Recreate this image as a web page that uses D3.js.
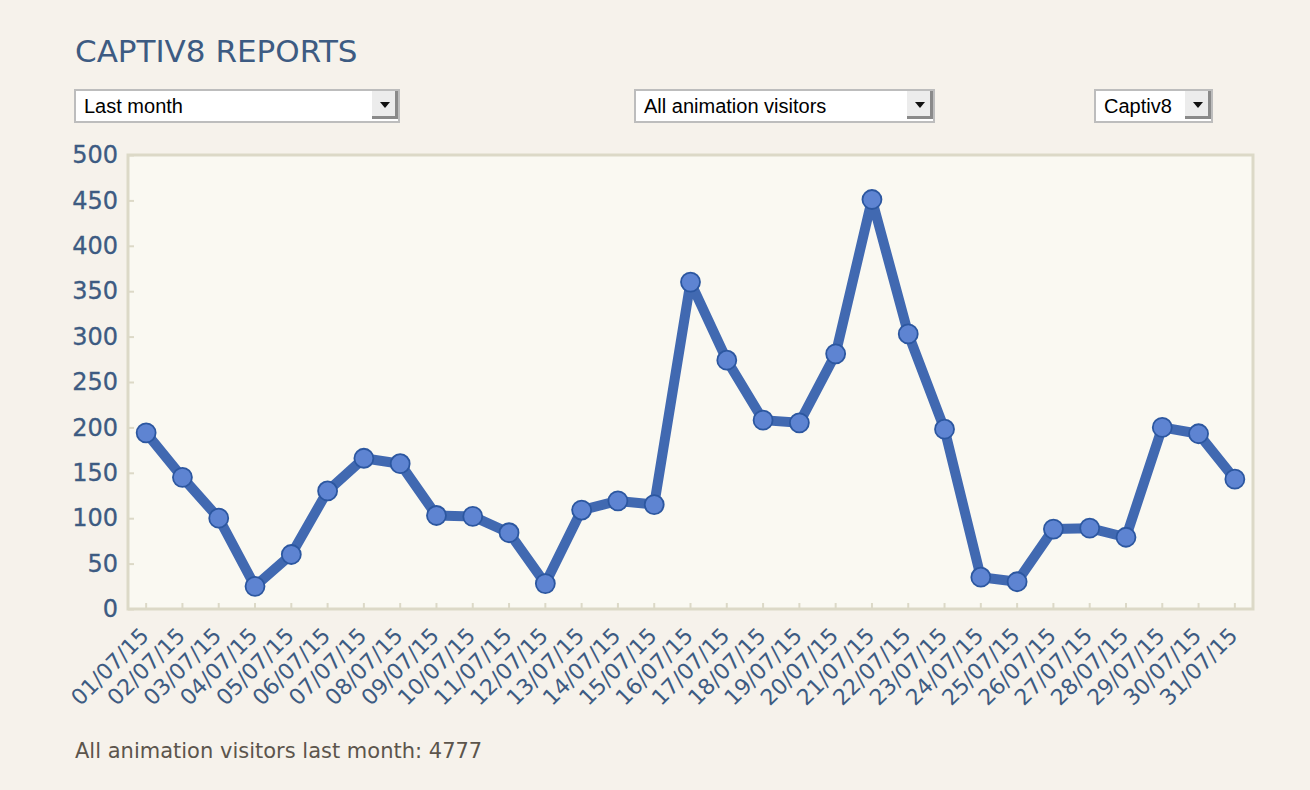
<html>
<head>
<script type="text/javascript" src="https://cdnjs.cloudflare.com/ajax/libs/d3/7.8.5/d3.min.js"></script>
<style>
	body { margin: 0; background: #f6f2eb; font-family: "DejaVu Sans", sans-serif; }
	#page { position: relative; width: 1310px; height: 790px; overflow: hidden; }
	.dd { position: absolute; top: 89px; height: 30px; background: #fff; border: 2px solid #bdbdbd;
		font-family: "Liberation Sans", Arial, sans-serif; font-size: 20px; line-height: 30px; color: #000; padding-left: 8px; box-sizing: content-box; }
	.dd .arr { position: absolute; right: 0; top: 0; width: 26px; height: 28px; background: #ececec;
		border-right: 3px solid #8a8a8a; border-bottom: 3px solid #8a8a8a; box-sizing: border-box; }
	.dd .arr:after { content: ""; position: absolute; left: 8px; top: 11px; border-left: 5px solid transparent;
		border-right: 5px solid transparent; border-top: 6px solid #111; }
</style>
<script type="text/javascript">
	// data
	var days = ["01/07/15","02/07/15","03/07/15","04/07/15","05/07/15","06/07/15","07/07/15","08/07/15",
		"09/07/15","10/07/15","11/07/15","12/07/15","13/07/15","14/07/15","15/07/15","16/07/15",
		"17/07/15","18/07/15","19/07/15","20/07/15","21/07/15","22/07/15","23/07/15","24/07/15",
		"25/07/15","26/07/15","27/07/15","28/07/15","29/07/15","30/07/15","31/07/15"];
	var visitors = [194,145,100,25,60,130,166,160,103,102,84,28,109,119,115,360,274,208,205,281,
		451,303,198,35,30,88,89,79,200,193,143];
	var yTicks = [0,50,100,150,200,250,300,350,400,450,500];

	function loadMeUp() {
		var page = d3.select("#page");

		var svg = page.append("svg")
			.attr("width", 1310)
			.attr("height", 790)
			.style("position", "absolute")
			.style("left", 0).style("top", 0);

		svg.append("text")
			.attr("x", 75).attr("y", 62)
			.attr("fill", "#3d5b82")
			.style("font-family", "'DejaVu Sans', sans-serif")
			.style("font-size", "31px")
			.text("CAPTIV8 REPORTS");

		var left = 128, right = 1253, top = 155, bottom = 609;

		var x = d3.scaleBand().domain(days).range([left, right]);
		var y = d3.scaleLinear().domain([0, 500]).range([bottom, top]);

		// plot background + border
		svg.append("rect")
			.attr("x", left).attr("y", top)
			.attr("width", right - left).attr("height", bottom - top)
			.attr("fill", "#faf9f2")
			.attr("stroke", "#dcd9c7")
			.attr("stroke-width", 3);

		// y axis
		var yAxis = svg.append("g")
			.attr("transform", "translate(" + left + ",0)")
			.call(d3.axisLeft(y).tickValues(yTicks).tickSize(-6).tickPadding(10));
		yAxis.select(".domain").remove();
		yAxis.selectAll("line").attr("stroke", "#dcd9c7").attr("stroke-width", 2);
		yAxis.selectAll("text")
			.attr("fill", "#3d5b82")
			.style("font-family", "'DejaVu Sans', sans-serif")
			.style("font-size", "24px")
			.attr("stroke", "#3d5b82").attr("stroke-width", 0.3);

		// x axis
		var xAxis = svg.append("g")
			.attr("transform", "translate(0," + bottom + ")")
			.call(d3.axisBottom(x).tickSize(-6).tickPadding(0));
		xAxis.select(".domain").remove();
		xAxis.selectAll("line").attr("stroke", "#dcd9c7").attr("stroke-width", 2);
		xAxis.selectAll("text")
			.attr("fill", "#3d5b82")
			.style("font-family", "'DejaVu Sans', sans-serif")
			.style("font-size", "22px")
			.attr("text-anchor", "end")
			.attr("dy", 0)
			.attr("transform", "translate(4,28) rotate(-45)");

		var line = d3.line()
			.x(function(d, i) { return x(days[i]) + x.bandwidth() / 2; })
			.y(function(d) { return y(d); });

		svg.append("path")
			.datum(visitors)
			.attr("d", line)
			.attr("fill", "none")
			.attr("stroke", "#4169b1")
			.attr("stroke-width", 10)
			.attr("stroke-linejoin", "round");

		svg.selectAll("circle.pt")
			.data(visitors)
			.enter().append("circle")
			.attr("class", "pt")
			.attr("cx", function(d, i) { return x(days[i]) + x.bandwidth() / 2; })
			.attr("cy", function(d) { return y(d); })
			.attr("r", 9.5)
			.attr("fill", "#5e84d2")
			.attr("stroke", "#2c57a0")
			.attr("stroke-width", 1.8);

		svg.append("text")
			.attr("x", 75).attr("y", 758)
			.attr("fill", "#5c554c")
			.style("font-family", "'DejaVu Sans', sans-serif")
			.style("font-size", "21px")
			.text("All animation visitors last month: " + d3.sum(visitors));
	}
</script>
</head>
<body onload="loadMeUp();">
<div id="page">
	<div class="dd" style="left:74px; width:314px;">Last month<span class="arr"></span></div>
	<div class="dd" style="left:634px; width:289px;">All animation visitors<span class="arr"></span></div>
	<div class="dd" style="left:1094px; width:107px;">Captiv8<span class="arr"></span></div>
</div>
</body>
</html>
